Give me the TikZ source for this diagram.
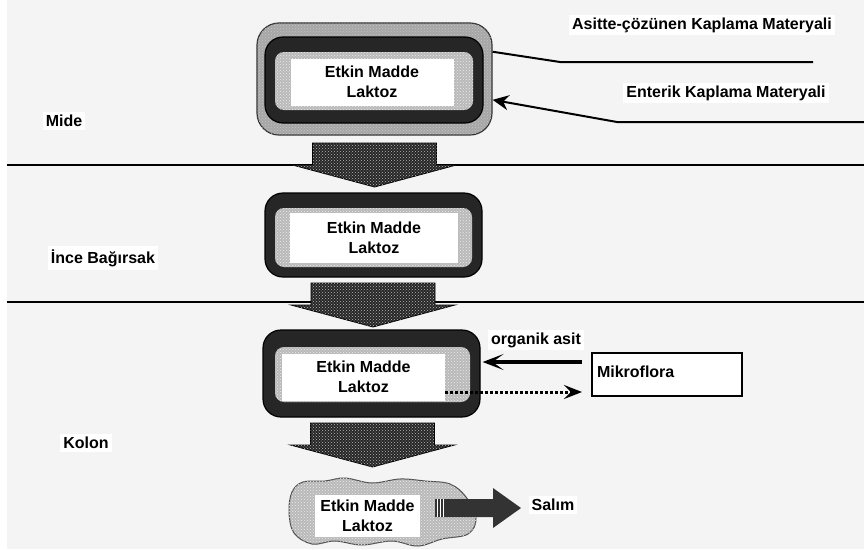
\documentclass[tikz,border=0pt]{standalone}
\usepackage{fontspec}
\setmainfont{Liberation Sans}
\usetikzlibrary{arrows.meta,patterns}

\tikzset{
  coat/.style={draw=black!80, line width=1.2pt, fill=gray!70, rounded corners=22pt,
    inner sep=0pt, postaction={pattern=crosshatch dots, pattern color=gray!45}},
  enteric/.style={draw=black, line width=1.2pt, fill=black!85, rounded corners=18pt, inner sep=0pt},
  granule/.style={fill=gray!55, rounded corners=9pt, inner sep=0pt,
    postaction={pattern=crosshatch dots, pattern color=gray!15}},
  core/.style={fill=white, align=center, inner sep=0pt},
  tag/.style={fill=white, inner sep=3pt},
  pics/flowdown/.style={code={
    \fill[black!85, draw=black, line width=0.8pt, postaction={pattern=crosshatch dots, pattern color=gray!55}]
      (-62,0) -- (62,0) -- (62,22) -- (82,22) -- (0,44) -- (-82,22) -- (-62,22) -- cycle;
  }}
}

\begin{document}
\begin{tikzpicture}[x=1pt, y=-1pt, font=\bfseries\fontsize{16}{19.5}\selectfont]
  \useasboundingbox (0,0) rectangle (864,549);
  \fill[gray!9] (7,0) rectangle (864,549);

  % region borders
  \draw[line width=1.8pt] (7,165) -- (864,165);
  \draw[line width=1.8pt] (7,302) -- (864,302);

  % region names
  \node[tag] (mide) at (64,121) {Mide};
  \node[tag] (ince) at (103,258) {İnce Bağırsak};
  \node[tag] (kolon) at (86,443) {Kolon};

  % stomach: coated tablet
  \node[coat, minimum width=235pt, minimum height=112pt] (outer1) at (374.5,79) {};
  \node[enteric, minimum width=218pt, minimum height=86pt] (ring1) at (374,80) {};
  \node[granule, minimum width=198pt, minimum height=58pt] (gran1) at (374,81) {};
  \node[core, minimum width=163pt, minimum height=47pt] (core1) at (372,82) {Etkin Madde\\Laktoz};

  % small intestine
  \node[enteric, minimum width=217pt, minimum height=84pt] (ring2) at (373.5,235) {};
  \node[granule, minimum width=197pt, minimum height=59pt] (gran2) at (373.5,237.5) {};
  \node[core, minimum width=168pt, minimum height=50pt] (core2) at (374,238) {Etkin Madde\\Laktoz};

  % colon
  \node[enteric, minimum width=217pt, minimum height=87pt] (ring3) at (371.5,373.5) {};
  \node[granule, minimum width=195pt, minimum height=55pt] (gran3) at (372.5,374.5) {};
  \node[core, minimum width=163pt, minimum height=47pt] (core3) at (363.5,377) {Etkin Madde\\Laktoz};

  % released drug
  \draw[black!70, line width=1pt, fill=gray!55, postaction={pattern=crosshatch dots, pattern color=gray!15}]
    plot[smooth cycle, tension=0.6] coordinates {(292,492) (303,482) (325,481) (345,478) (372,483) (400,479)
      (425,481) (450,484) (466,497) (476,518) (468,534) (442,539) (418,546) (392,541) (362,545)
      (335,541) (312,544) (294,533) (289,512)};
  \node[core, minimum width=105pt, minimum height=42pt] (core4) at (367.5,516) {Etkin Madde\\Laktoz};

  % passage arrows
  \pic at (374.5,143) {flowdown};
  \pic at (373,283) {flowdown};
  \pic at (372.5,423) {flowdown};

  % release arrow
  \fill[black!80] (435,499) -- (493,499) -- (493,488) -- (521,508) -- (493,528) -- (493,517) -- (435,517) -- cycle;
  \foreach \x in {437.5,440.5,443.5}
    \draw[white, line width=0.8pt] (\x,499) -- (\x,517);
  \node[tag] (salim) at (553,505) {Salım};

  % coating labels
  \node[tag] (asit) at (702,25) {Asitte-çözünen Kaplama Materyali};
  \node[tag] (enterik) at (726,93) {Enterik Kaplama Materyali};
  \coordinate (asA) at (813,62);
  \coordinate (asB) at (560,62);
  \draw[line width=2pt] (asA) -- (asB) -- (outer1.13);
  \coordinate (enA) at (864,122);
  \coordinate (enB) at (617,122);
  \draw[line width=2pt, -{Stealth[length=16pt, width=15pt]}] (enA) -- (enB) -- (outer1.-10);

  % microflora
  \node[draw, line width=1.4pt, fill=white, minimum width=150pt, minimum height=43pt,
    text width=140pt, align=left] (micro) at (667,374.5) {\raisebox{6pt}{Mikroflora}};
  \node[tag] (organik) at (536,340) {organik asit};
  \coordinate (oaStart) at (582,362);
  \draw[line width=4pt, -{Stealth[length=21pt, width=16pt, inset=11pt]}, shorten >=2pt]
    (oaStart) -- (oaStart -| ring3.east);
  \coordinate (dotEnd) at (582,392);
  \draw[line width=3pt, dash pattern=on 3pt off 2pt, -{Stealth[length=18pt, width=14pt, inset=7pt]}]
    (dotEnd -| core3.east) -- (dotEnd);
\end{tikzpicture}
\end{document}
